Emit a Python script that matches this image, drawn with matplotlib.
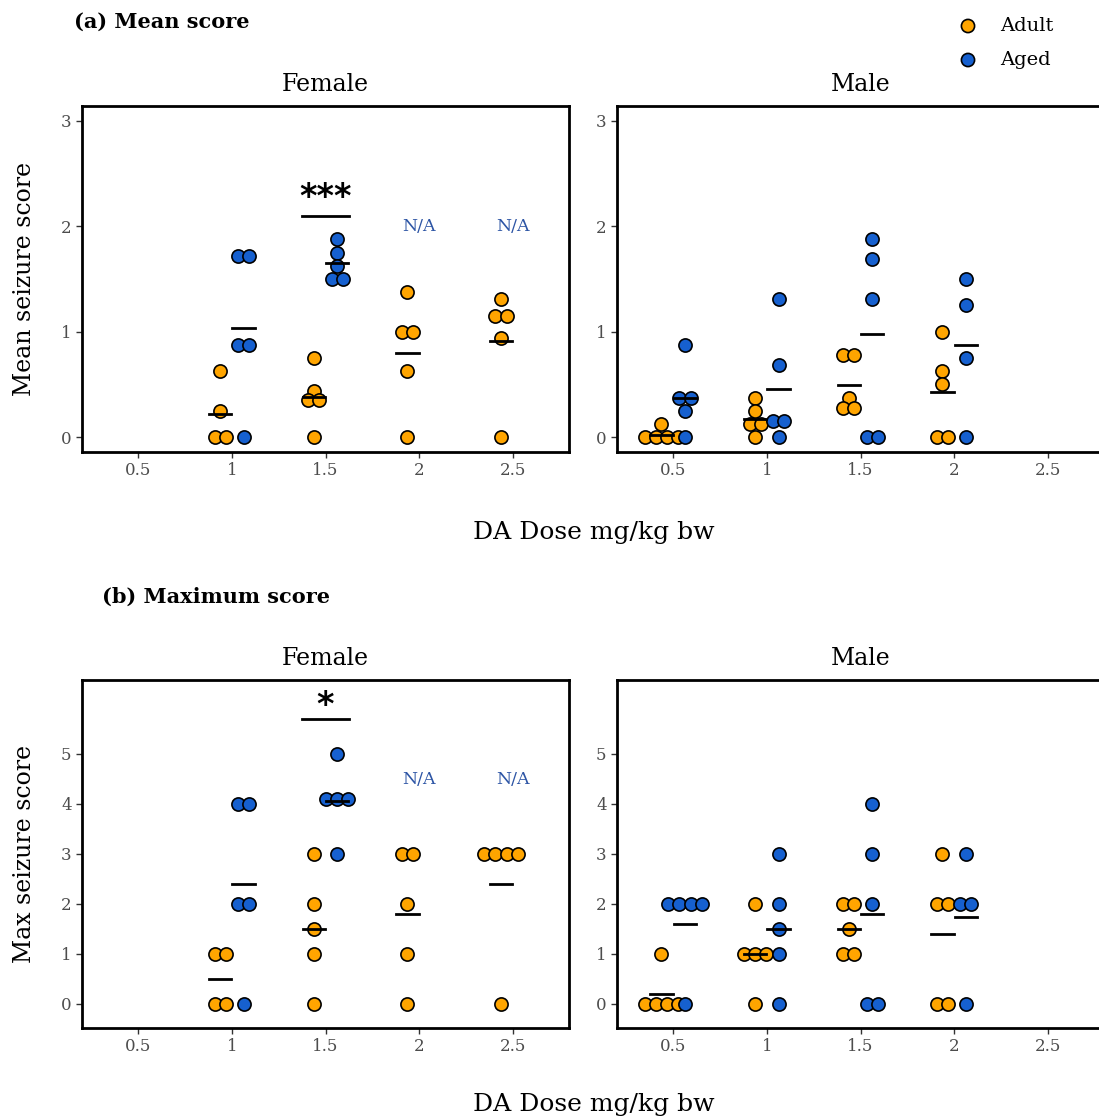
import numpy as np
import matplotlib
matplotlib.use("Agg")
import matplotlib.pyplot as plt

plt.rcParams['font.family'] = ['DejaVu Serif']

ADULT_COLOR = '#FFA500'
AGED_COLOR = '#1660CF'
NA_COLOR = '#2D55A5'

dose_ticks = [0.5, 1, 1.5, 2, 2.5]
dose_labels = ['0.5', '1', '1.5', '2', '2.5']

# (a) mean seizure score, per dose
mean_female_adult = {
    1.0: [0.625, 0.25, 0, 0],
    1.5: [0.75, 0.4375, 0.35, 0.35, 0],
    2.0: [1.375, 1.0, 1.0, 0.625, 0],
    2.5: [1.3125, 1.15, 1.15, 0.9375, 0],
}
mean_female_aged = {
    1.0: [1.714, 1.714, 0.875, 0.875, 0],
    1.5: [1.875, 1.75, 1.625, 1.5, 1.5],
}
mean_male_adult = {
    0.5: [0.125, 0, 0, 0, 0],
    1.0: [0.375, 0.25, 0.125, 0.125, 0],
    1.5: [0.78, 0.78, 0.375, 0.28, 0.28],
    2.0: [1.0, 0.625, 0.5, 0, 0],
}
mean_male_aged = {
    0.5: [0.875, 0.375, 0.375, 0.25, 0],
    1.0: [1.3125, 0.6875, 0.15, 0.15, 0],
    1.5: [1.875, 1.6875, 1.3125, 0, 0],
    2.0: [1.5, 1.25, 0.75, 0],
}

# (b) maximum seizure score, per dose
max_female_adult = {
    1.0: [1, 1, 0, 0],
    1.5: [3, 2, 1.5, 1, 0],
    2.0: [3, 3, 2, 1, 0],
    2.5: [3, 3, 3, 3, 0],
}
max_female_aged = {
    1.0: [4, 4, 2, 2, 0],
    1.5: [5, 4.1, 4.1, 4.1, 3],
}
max_male_adult = {
    0.5: [1, 0, 0, 0, 0],
    1.0: [2, 1, 1, 1, 0],
    1.5: [2, 2, 1.5, 1, 1],
    2.0: [3, 2, 2, 0, 0],
}
max_male_aged = {
    0.5: [2, 2, 2, 2, 0],
    1.0: [3, 2, 1.5, 1, 0],
    1.5: [4, 3, 2, 0, 0],
    2.0: [3, 2, 2, 0],
}

# annotations: (dose, bar height, label)
sig_mean = (1.5, 2.10, '***')
sig_max = (1.5, 5.70, '*')
na_doses = [2.0, 2.5]


def swarm(values, step=0.06):
    vals = np.asarray(values, dtype=float)
    offs = np.zeros(len(vals))
    for v in np.unique(vals):
        idx = np.where(vals == v)[0]
        n = len(idx)
        offs[idx] = (np.arange(n) - (n - 1) / 2) * step
    return offs


def draw_groups(ax, data, shift, color):
    for dose, vals in data.items():
        x = dose + shift + swarm(vals)
        ax.scatter(x, vals, s=90, color=color, edgecolor='black', linewidth=1.2, zorder=3)
        m = np.mean(vals)
        ax.plot([dose + shift - 0.06, dose + shift + 0.06], [m, m], color='black', lw=2, zorder=4)


def style_axes(ax, ylim, yticks):
    ax.set_xlim(0.2, 2.8)
    ax.set_ylim(*ylim)
    ax.set_xticks(dose_ticks)
    ax.set_xticklabels(dose_labels)
    ax.set_yticks(yticks)
    ax.tick_params(labelsize=12, labelcolor='#4D4D4D', color='#333333', length=4, width=1)
    for s in ax.spines.values():
        s.set_linewidth(2)
        s.set_color('black')


fig = plt.figure(figsize=(10.99, 11.19), dpi=100)
W, H = 1099, 1119


def axes_px(x0, y0, x1, y1):
    return fig.add_axes([x0 / W, 1 - y1 / H, (x1 - x0) / W, (y1 - y0) / H])


ax_a_f = axes_px(82, 106, 569, 452)
ax_a_m = axes_px(617, 106, 1104, 452)
ax_b_f = axes_px(82, 680, 569, 1028)
ax_b_m = axes_px(617, 680, 1104, 1028)

d = 0.0625
draw_groups(ax_a_f, mean_female_adult, -d, ADULT_COLOR)
draw_groups(ax_a_f, mean_female_aged, d, AGED_COLOR)
draw_groups(ax_a_m, mean_male_adult, -d, ADULT_COLOR)
draw_groups(ax_a_m, mean_male_aged, d, AGED_COLOR)
draw_groups(ax_b_f, max_female_adult, -d, ADULT_COLOR)
draw_groups(ax_b_f, max_female_aged, d, AGED_COLOR)
draw_groups(ax_b_m, max_male_adult, -d, ADULT_COLOR)
draw_groups(ax_b_m, max_male_aged, d, AGED_COLOR)

for ax in (ax_a_f, ax_a_m):
    style_axes(ax, (-0.14, 3.14), [0, 1, 2, 3])
for ax in (ax_b_f, ax_b_m):
    style_axes(ax, (-0.48, 6.48), [0, 1, 2, 3, 4, 5])

# significance bars and N/A labels
for ax, (xd, yb, lab), na_y, off in ((ax_a_f, sig_mean, 2.0, 0.02), (ax_b_f, sig_max, 4.5, -0.05)):
    ax.plot([xd - 0.125, xd + 0.125], [yb, yb], color='black', lw=2)
    ax.text(xd, yb + off, lab, ha='center', va='bottom', fontsize=24, fontweight='bold',
            family='DejaVu Sans')
    for nd in na_doses:
        ax.text(nd, na_y, 'N/A', ha='center', va='center', fontsize=12.5, color=NA_COLOR)

# strip titles
for ax, t in ((ax_a_f, 'Female'), (ax_a_m, 'Male'), (ax_b_f, 'Female'), (ax_b_m, 'Male')):
    ax.set_title(t, fontsize=17, pad=11)

# panel headings
fig.text(74 / W, 1 - 22 / H, '(a) Mean score', fontsize=15, fontweight='bold', va='center', ha='left')
fig.text(102 / W, 1 - 597 / H, '(b) Maximum score', fontsize=15, fontweight='bold', va='center', ha='left')

# axis labels
fig.text(594 / W, 1 - 532 / H, 'DA Dose mg/kg bw', fontsize=18, ha='center', va='center')
fig.text(594 / W, 1 - 1105 / H, 'DA Dose mg/kg bw', fontsize=18, ha='center', va='center')
fig.text(25 / W, 1 - 279 / H, 'Mean seizure score', fontsize=17, rotation=90, ha='center', va='center')
fig.text(25 / W, 1 - 854 / H, 'Max seizure score', fontsize=17, rotation=90, ha='center', va='center')

# legend
leg_ax = fig.add_axes([0, 0, 1, 1], facecolor='none')
leg_ax.set_xlim(0, W)
leg_ax.set_ylim(H, 0)
leg_ax.axis('off')
leg_ax.scatter([968, 968], [26, 60], s=90, c=[ADULT_COLOR, AGED_COLOR], edgecolor='black', linewidth=1.2)
leg_ax.text(1000, 26, 'Adult', fontsize=14, va='center')
leg_ax.text(1000, 60, 'Aged', fontsize=14, va='center')

fig.savefig('out.png', dpi=100)
